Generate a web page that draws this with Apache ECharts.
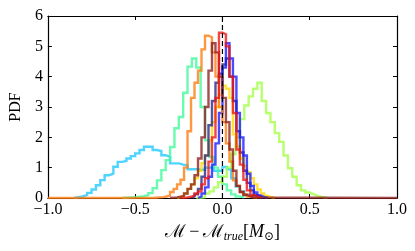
<!DOCTYPE html>
<html><head><meta charset="utf-8">
<script src="https://cdn.jsdelivr.net/npm/echarts@6/dist/echarts.min.js"></script>
<style>html,body{margin:0;padding:0;background:#fff}#c{width:415px;height:251px}</style>
</head><body><div id="c"></div>
<script>
// ---- data ----
const xTicks = [-1.0, -0.5, 0.0, 0.5, 1.0];
const yTicks = [0, 1, 2, 3, 4, 5, 6];
const xRange = [-1.0, 1.0];
const yRange = [0, 6];

// broad histograms: bin width 0.025
const cyanStart = -0.85, cyanWidth = 0.025;
const cyanVals = [0.03,0.05,0.10,0.17,0.28,0.42,0.59,0.75,0.80,1.03,1.19,1.22,1.30,1.38,1.47,1.58,1.69,1.69,1.58,1.55,1.41,1.36,1.14,1.14,1.10,1.08,0.95,0.95,0.93,0.93,1.00,1.00,0.90,0.90,1.02,0.95,0.65,0.38,0.22,0.12,0.07,0.04,0.02];

const aquaStart = -0.575, aquaWidth = 0.025;
const aquaVals = [0.01,0.02,0.03,0.04,0.06,0.09,0.16,0.32,0.58,0.92,1.25,1.68,2.30,2.67,3.47,4.33,4.60,4.30,3.00,1.90,1.35,1.00,0.70,0.45,0.25,0.12,0.05,0.02];

const limeStart = -0.15, limeWidth = 0.025;
const limeVals = [0.01,0.03,0.15,0.22,0.35,0.52,0.70,1.00,1.45,2.00,2.60,3.05,3.35,3.60,3.80,3.20,2.80,2.50,2.14,1.85,1.40,0.98,0.70,0.42,0.25,0.18,0.12,0.06,0.03,0.01];

// narrow histograms: bin width 0.02
const yellowStart = -0.26, yellowWidth = 0.02;
const yellowVals = [0.03,0.08,0.15,0.30,0.45,0.65,0.90,1.15,1.40,1.90,2.50,3.00,3.40,3.70,3.60,3.30,2.10,1.70,1.30,1.05,0.85,0.65,0.45,0.28,0.15,0.07,0.03,0.01];

const navyStart = -0.18, navyWidth = 0.02;
const navyVals = [0.05,0.12,0.30,0.70,1.40,2.40,3.20,3.80,4.10,4.40,4.60,4.00,3.20,2.20,1.50,0.90,0.50,0.25,0.10,0.04];

const blueStart = -0.14, blueWidth = 0.02;
const blueVals = [0.05,0.15,0.35,0.70,1.10,1.80,2.80,4.30,5.10,4.60,4.00,2.80,2.00,1.40,0.80,0.40,0.18,0.08,0.03,0.01];

const orangeStart = -0.40, orangeWidth = 0.02;
const orangeVals = [0.01,0.02,0.03,0.05,0.08,0.20,0.30,0.45,0.60,1.00,2.20,3.30,3.80,4.20,4.90,5.35,5.30,4.80,4.00,3.00,2.50,1.80,1.20,0.58,0.40,0.20,0.12,0.05,0.02,0.01];

const brownStart = -0.30, brownWidth = 0.02;
const brownVals = [0.01,0.02,0.04,0.08,0.15,0.30,0.45,0.75,1.30,2.00,3.00,4.20,5.10,4.80,4.00,3.30,2.50,1.60,0.90,0.40,0.20,0.10,0.05,0.02];

const redStart = -0.24, redWidth = 0.02;
const redVals = [0.01,0.02,0.04,0.08,0.15,0.22,0.45,0.65,1.20,2.00,3.30,5.45,5.40,5.00,4.00,2.80,1.60,1.10,0.60,0.25,0.10,0.05,0.02];

const refLineX = 0.0;

// ---- build step outlines (matplotlib histtype='step') ----
function steps(start, width, vals, extLeft, extRight) {
  const pts = [];
  if (extLeft) pts.push([xRange[0], 0]);
  pts.push([start, 0]);
  vals.forEach((v, i) => pts.push([start + i * width, v]));
  const end = start + vals.length * width;
  pts.push([end, 0]);
  if (extRight) pts.push([xRange[1], 0]);
  return pts;
}

function hist(name, color, start, width, vals, extL, extR) {
  return {
    name, type: 'line', step: 'end', showSymbol: false, symbol: 'none',
    data: steps(start, width, vals, extL, extR),
    lineStyle: { color, width: 2.4, opacity: 0.78, join: 'miter' },
    itemStyle: { color }, animation: false, silent: true, clip: true
  };
}

const serif = '"Liberation Serif", "DejaVu Serif", serif';
const fmt = v => (v < 0 ? '\u2212' : '') + Math.abs(v).toFixed(1);

const chart = echarts.init(document.getElementById('c'), null, { renderer: 'canvas' });
const axisLine = { show: true, onZero: false, lineStyle: { color: '#000', width: 1.2 } };
const tick = { show: true, inside: true, length: 4, lineStyle: { color: '#000', width: 1 } };

chart.setOption({
  animation: false,
  backgroundColor: '#fff',
  grid: { left: 43, right: 18, top: 16, bottom: 53, containLabel: false },
  xAxis: [
    { type: 'value', min: xRange[0], max: xRange[1], interval: 0.5, position: 'bottom',
      axisLine, axisTick: tick, splitLine: { show: false },
      axisLabel: { formatter: fmt, fontFamily: serif, fontSize: 16, color: '#000', margin: 4 },
      name: '{m|\u2133} {m|\u2212} {m|\u2133}{s|true}{m|[}{i|M}{o|\u2299}{m|]}',
      nameLocation: 'middle', nameGap: 23,
      nameTextStyle: { rich: {
        m: { fontFamily: serif, fontSize: 18, color: '#000', lineHeight: 22 },
        i: { fontFamily: serif, fontSize: 18, fontStyle: 'italic', color: '#000', lineHeight: 22 },
        s: { fontFamily: serif, fontSize: 12, fontStyle: 'italic', color: '#000', lineHeight: 14, verticalAlign: 'bottom' },
        o: { fontFamily: serif, fontSize: 12, color: '#000', lineHeight: 14, verticalAlign: 'bottom' }
      } } },
    { type: 'value', min: xRange[0], max: xRange[1], interval: 0.5, position: 'top',
      axisLine, axisTick: tick, axisLabel: { show: false }, splitLine: { show: false } }
  ],
  yAxis: [
    { type: 'value', min: yRange[0], max: yRange[1], interval: 1, position: 'left',
      axisLine, axisTick: tick, splitLine: { show: false },
      axisLabel: { fontFamily: serif, fontSize: 16, color: '#000', margin: 5 },
      name: 'PDF', nameLocation: 'middle', nameGap: 19, nameRotate: 90,
      nameTextStyle: { fontFamily: serif, fontSize: 16, color: '#000' } },
    { type: 'value', min: yRange[0], max: yRange[1], interval: 1, position: 'right',
      axisLine, axisTick: tick, axisLabel: { show: false }, splitLine: { show: false } }
  ],
  series: [
    hist('cyan', '#1ec8ff', cyanStart, cyanWidth, cyanVals),
    hist('aqua', '#40fa9a', aquaStart, aquaWidth, aquaVals),
    hist('lime', '#a4ff48', limeStart, limeWidth, limeVals),
    hist('yellow', '#ffd800', yellowStart, yellowWidth, yellowVals),
    hist('navy', '#222288', navyStart, navyWidth, navyVals),
    hist('blue', '#1a1aff', blueStart, blueWidth, blueVals),
    hist('orange', '#ff7a0a', orangeStart, orangeWidth, orangeVals, true, false),
    hist('brown', '#8b1c1c', brownStart, brownWidth, brownVals, false, true),
    hist('red', '#ee1111', redStart, redWidth, redVals),
    { name: 'ref', type: 'line', showSymbol: false, symbol: 'none', z: 10,
      data: [[refLineX, yRange[0]], [refLineX, yRange[1]]],
      lineStyle: { color: '#000', width: 1.2, type: [5, 3] }, silent: true }
  ]
});
</script>
</body></html>
